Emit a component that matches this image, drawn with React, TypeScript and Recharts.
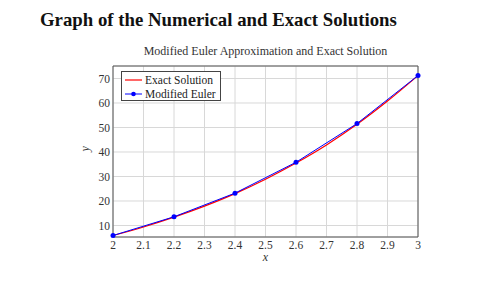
import {
  LineChart,
  Line,
  XAxis,
  YAxis,
  CartesianGrid,
  ReferenceArea,
  Label,
} from "recharts";

const exactX = [2.0, 2.1, 2.2, 2.3, 2.4, 2.5, 2.6, 2.7, 2.8, 2.9, 3.0];
const exactY = [5.9, 9.4, 13.4, 17.9, 23.0, 28.9, 35.5, 42.9, 51.3, 60.8, 71.2];

const eulerX = [2.0, 2.2, 2.4, 2.6, 2.8, 3.0];
const eulerY = [5.9, 13.55, 23.2, 35.8, 51.6, 71.2];

const xTicks = [2, 2.1, 2.2, 2.3, 2.4, 2.5, 2.6, 2.7, 2.8, 2.9, 3];
const yTicks = [10, 20, 30, 40, 50, 60, 70];

const exactData = exactX.map((x, i) => ({ x, y: exactY[i] }));
const eulerData = eulerX.map((x, i) => ({ x, y: eulerY[i] }));

const FONT = "'Liberation Serif', 'DejaVu Serif', serif";
const Y_MIN = 5.3;
const Y_MAX = 75.1;

// legend drawn outside recharts so it doesn't steal plot space
const LegendBox = () => (
  <div
    style={{
      position: "absolute",
      left: 121,
      top: 71,
      width: 100,
      height: 30,
      border: "1px solid #444",
      background: "#fff",
      padding: "1px 0 0 3px",
      boxSizing: "border-box",
      fontFamily: FONT,
      fontSize: 11.5,
      color: "#222",
      lineHeight: "14px",
      whiteSpace: "nowrap",
    }}
  >
    <div style={{ display: "flex", alignItems: "center" }}>
      <svg width={17} height={10}>
        <line x1={0} y1={5} x2={17} y2={5} stroke="#ff0000" strokeWidth={1.2} />
      </svg>
      <span style={{ marginLeft: 3 }}>Exact Solution</span>
    </div>
    <div style={{ display: "flex", alignItems: "center" }}>
      <svg width={17} height={10}>
        <line x1={0} y1={5} x2={17} y2={5} stroke="#0000ff" strokeWidth={1} />
        <circle cx={8.5} cy={5} r={2.3} fill="#0000ff" />
      </svg>
      <span style={{ marginLeft: 3 }}>Modified Euler</span>
    </div>
  </div>
);

export default function App() {
  return (
    <div
      style={{
        position: "absolute",
        left: 0,
        top: 0,
        width: 500,
        height: 290,
        background: "#fff",
      }}
    >
      <div
        style={{
          position: "absolute",
          left: 40,
          top: 9,
          fontFamily: FONT,
          fontWeight: "bold",
          fontSize: 18.8,
          color: "#111",
          whiteSpace: "nowrap",
        }}
      >
        Graph of the Numerical and Exact Solutions
      </div>
      <div
        style={{
          position: "absolute",
          left: 113,
          width: 305,
          top: 44,
          textAlign: "center",
          fontFamily: FONT,
          fontSize: 12,
          color: "#333",
          whiteSpace: "nowrap",
        }}
      >
        Modified Euler Approximation and Exact Solution
      </div>
      <LineChart
        width={500}
        height={290}
        margin={{ top: 66, right: 82, bottom: 23, left: 73 }}
        style={{ position: "absolute", left: 0, top: 0 }}
      >
        <CartesianGrid stroke="#d8d8d8" strokeWidth={1} />
        <XAxis
          dataKey="x"
          type="number"
          domain={[2, 3]}
          ticks={xTicks}
          allowDuplicatedCategory={false}
          tickFormatter={(v: number) => String(Math.round(v * 10) / 10)}
          tickLine={false}
          tickSize={0}
          axisLine={false}
          height={30}
          tick={{ fontFamily: FONT, fontSize: 11.5, fill: "#333" }}
          tickMargin={4}
          interval={0}
        >
          <Label
            value="x"
            position="insideBottom"
            offset={6}
            style={{ fontFamily: FONT, fontStyle: "italic", fontSize: 12, fill: "#333" }}
          />
        </XAxis>
        <YAxis
          type="number"
          domain={[Y_MIN, Y_MAX]}
          ticks={yTicks}
          tickLine={false}
          tickSize={0}
          axisLine={false}
          width={40}
          tick={{ fontFamily: FONT, fontSize: 11.5, fill: "#333" }}
          tickMargin={3}
          interval={0}
        >
          <Label
            value="y"
            angle={-90}
            position="insideLeft"
            offset={12}
            style={{ fontFamily: FONT, fontStyle: "italic", fontSize: 12, fill: "#333" }}
          />
        </YAxis>
        <ReferenceArea
          x1={2}
          x2={3}
          y1={Y_MIN}
          y2={Y_MAX}
          fill="none"
          stroke="#555"
          strokeWidth={1}
          ifOverflow="extendDomain"
        />
        <Line
          data={exactData}
          dataKey="y"
          type="monotone"
          stroke="#ff0000"
          strokeWidth={1.2}
          dot={false}
          isAnimationActive={false}
          name="Exact Solution"
        />
        <Line
          data={eulerData}
          dataKey="y"
          type="linear"
          stroke="#0000ff"
          strokeWidth={1}
          dot={{ r: 2.5, fill: "#0000ff", stroke: "#0000ff", strokeWidth: 0 }}
          isAnimationActive={false}
          name="Modified Euler"
        />
      </LineChart>
      <LegendBox />
    </div>
  );
}
